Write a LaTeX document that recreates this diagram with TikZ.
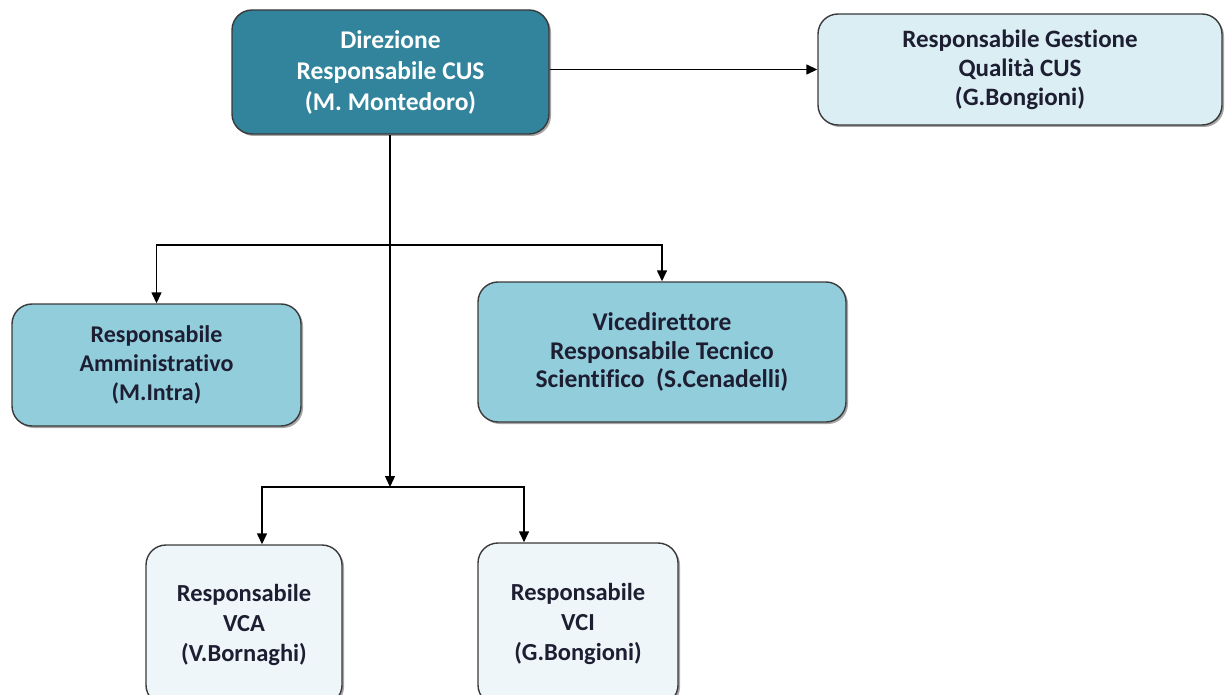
\documentclass[tikz,border=0pt]{standalone}
\usepackage{fontspec}
\setmainfont[Ligatures=NoCommon]{Carlito}
\usetikzlibrary{arrows.meta,shadows,positioning}
\definecolor{dteal}{HTML}{31849B}
\definecolor{mblue}{HTML}{92CDDC}
\definecolor{lblue}{HTML}{DAEEF3}
\definecolor{xlblue}{HTML}{EEF6F9}
\definecolor{txt}{HTML}{1E1E32}
\definecolor{edge}{HTML}{3A3A3A}
\tikzset{
  box/.style={draw=edge, line width=1.4pt, rounded corners=20pt, align=center,
    text=txt, font=\bfseries\fontsize{24.5}{30}\selectfont, inner sep=0pt,
    drop shadow={shadow xshift=2pt, shadow yshift=-2pt, fill=black, opacity=0.35}},
  arr/.style={line width=1.4pt, draw=black, -{Triangle[length=11pt,width=10pt]}},
  ln/.style={line width=1.4pt, draw=black}
}
\begin{document}
\begin{tikzpicture}[x=1pt,y=-1pt]
\useasboundingbox (0,0) rectangle (1228,695);
\node[box, fill=dteal, text=white, font=\bfseries\fontsize{25.5}{31}\selectfont, minimum width=317pt, minimum height=124pt] (dir) at (390.5,72) {Direzione\\Responsabile CUS\\(M. Montedoro)};
\node[box, fill=lblue, font=\bfseries\fontsize{25}{29}\selectfont, minimum width=404pt, minimum height=111pt] (qual) at (1020,69.5) {Responsabile Gestione\\Qualità CUS\\(G.Bongioni)};
\node[box, fill=mblue, font=\bfseries\fontsize{24}{29}\selectfont, minimum width=289pt, minimum height=122pt] (amm) at (156.5,365) {Responsabile\\Amministrativo\\(M.Intra)};
\node[box, fill=mblue, font=\bfseries\fontsize{25.5}{28.5}\selectfont, minimum width=368pt, minimum height=140pt] (vice) at (662,352) {Vicedirettore\\Responsabile Tecnico\\Scientifico~~(S.Cenadelli)};
\node[box, fill=xlblue, minimum width=196pt, minimum height=160pt] (vca) at (244,625) {Responsabile\\VCA\\(V.Bornaghi)};
\node[box, fill=xlblue, minimum width=200pt, minimum height=162pt] (vci) at (578,624) {Responsabile\\VCI\\(G.Bongioni)};
\coordinate (j0) at (390,245);
\coordinate (j1) at (390,487);
\draw[arr] (dir.east |- qual.west) -- (qual.west);
\draw[ln] (dir.south -| j1) -- (j0);
\draw[arr] (j0) -- (j1);
\draw[arr] (j0) -| (amm.north);
\draw[arr] (j0) -| (vice.north);
\draw[arr] (j1) -| ([xshift=18pt]vca.north);
\draw[arr] (j1) -| ([xshift=-54pt]vci.north);
\end{tikzpicture}
\end{document}
